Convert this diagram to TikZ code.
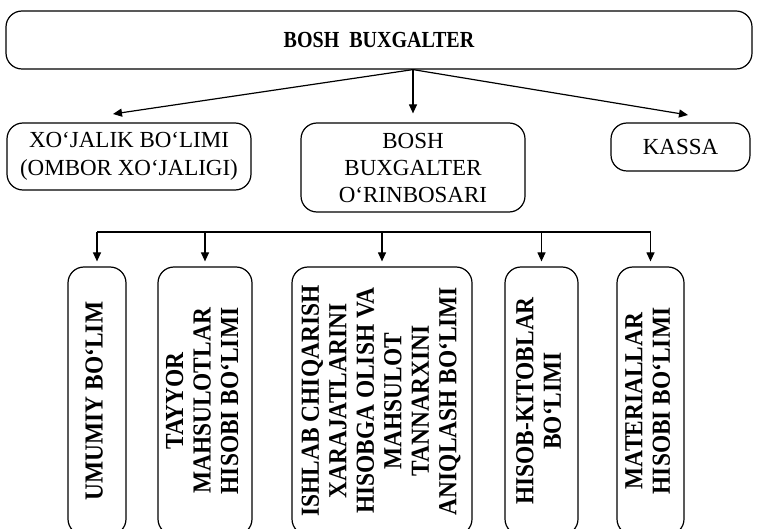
\documentclass[tikz,border=0pt]{standalone}
\usepackage{fontspec}
\setmainfont{Liberation Serif}
\newfontfamily\condserif[FakeStretch=0.87]{Liberation Serif}
\newfontfamily\condserifb[FakeStretch=0.9]{Liberation Serif}
\usetikzlibrary{arrows.meta}
\begin{document}
\begin{tikzpicture}[x=1pt,y=-1pt,
  box/.style={draw, line width=1.2pt, rounded corners=16pt, inner sep=0pt, align=center},
  arr/.style={-{Triangle[length=9pt,width=8pt]}, line width=1.2pt},
  ln/.style={line width=1.2pt},
  rowtwo/.style={font=\fontsize{23}{28}\selectfont},
  rowthree/.style={font=\condserifb\fontsize{26}{27.5}\selectfont\bfseries}]
\useasboundingbox (0,0) rectangle (758,529);
\begin{scope}
\clip (0,0) rectangle (758,529);
% top
\node[box, minimum width=746pt, minimum height=58pt, font=\condserif\fontsize{23}{25}\selectfont\bfseries] (top) at (379,40) {BOSH\ \ BUXGALTER};
% row 2
\node[box, rowtwo, minimum width=244pt, minimum height=67pt] (xo) at (129,156.5) {XO‘JALIK BO‘LIMI\\(OMBOR XO‘JALIGI)};
\node[box, rowtwo, font=\fontsize{23}{27}\selectfont, minimum width=224pt, minimum height=89pt] (mid) at (413,167.5) {BOSH\\BUXGALTER\\O‘RINBOSARI};
\node[box, rowtwo, minimum width=139pt, minimum height=48pt] (kassa) at (680.5,147) {KASSA};
% top arrows
\coordinate (o) at (top.south -| mid.north);
\coordinate (tl) at (113,114);
\coordinate (tr) at (688,115);
\draw[arr] (o) -- (tl);
\draw[arr, shorten >=9pt] (o) -- (mid.north);
\draw[arr] (o) -- (tr);
% row 3
\node[box, rowthree, minimum width=58pt, minimum height=268pt] (b1) at (97,401)
  {\rotatebox{90}{\begin{tabular}{@{}c@{}}UMUMIY BO‘LIM\end{tabular}}};
\node[box, rowthree, minimum width=94pt, minimum height=268pt] (b2) at (205,401)
  {\rotatebox{90}{\begin{tabular}{@{}c@{}}TAYYOR\\MAHSULOTLAR\\HISOBI BO‘LIMI\end{tabular}}};
\node[box, rowthree, minimum width=180pt, minimum height=268pt] (b3) at (382,401)
  {\rotatebox{90}{\begin{tabular}{@{}c@{}}ISHLAB CHIQARISH\\XARAJATLARINI\\HISOBGA OLISH VA\\MAHSULOT\\TANNARXINI\\ANIQLASH BO‘LIMI\end{tabular}}};
\node[box, rowthree, minimum width=73pt, minimum height=268pt] (b4) at (541.5,401)
  {\rotatebox{90}{\begin{tabular}{@{}c@{}}HISOB-KITOBLAR\\BO‘LIMI\end{tabular}}};
\node[box, rowthree, minimum width=67pt, minimum height=268pt] (b5) at (650.5,401)
  {\rotatebox{90}{\begin{tabular}{@{}c@{}}MATERIALLAR\\HISOBI BO‘LIMI\end{tabular}}};
% bus
\coordinate (bus) at (0,232);
\draw[ln] (b1.north |- bus) -- (b5.north |- bus);
\foreach \b in {b1,b2,b3,b4,b5}
  \draw[arr, shorten >=5pt] (\b.north |- bus) -- (\b.north);
\end{scope}
\end{tikzpicture}
\end{document}
